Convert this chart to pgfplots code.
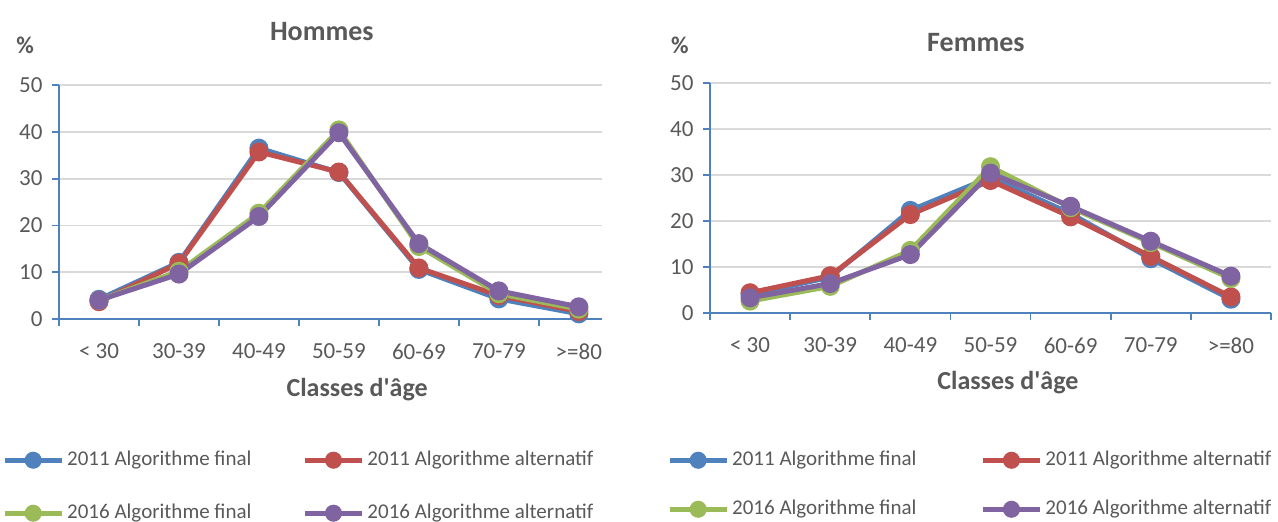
\documentclass[border=0pt]{standalone}
\usepackage{fontspec}
\setmainfont{Carlito}
\usepackage{pgfplots}
\pgfplotsset{compat=1.18}
\definecolor{cblue}{HTML}{4F81BD}
\definecolor{cred}{HTML}{C0504D}
\definecolor{cgreen}{HTML}{9BBB59}
\definecolor{cpurple}{HTML}{8064A2}
\definecolor{txt}{HTML}{595959}
\definecolor{gridc}{HTML}{D9D9D9}
\definecolor{axisblue}{HTML}{4F81BD}
\pgfplotsset{
  mystyle/.style={
    scale only axis,
    clip=false,
    ymin=0, ymax=50, ytick={0,10,...,50},
    xmin=-0.5,
    axis x line=bottom, axis y line=left,
    axis line style={draw=axisblue, line width=1.8pt, -},
    ymajorgrids, major grid style={draw=gridc, line width=1.8pt},
    tick align=outside,
    major tick length=7pt,
    tick style={draw=axisblue, line width=1.8pt},
    xtick={-0.5,0.5,...,6.5},
    xticklabels={},
    extra x ticks={0,1,2,3,4,5,6},
    extra x tick labels={{< 30},30-39,40-49,50-59,60-69,70-79,{>=80}},
    extra x tick style={major tick length=0pt, xticklabel style={yshift=-21pt}},
    tick label style={font=\fontsize{23}{23}\selectfont, text=txt},
    yticklabel style={xshift=-6pt},
    /pgf/number format/assume math mode=true,
    title style={font=\bfseries\fontsize{28}{28}\selectfont, text=txt, anchor=center},
    xlabel style={font=\bfseries\fontsize{26}{26}\selectfont, text=txt, anchor=center},
    ylabel style={font=\bfseries\fontsize{24}{24}\selectfont, text=txt, anchor=center, rotate=-90},
    xlabel={Classes d\textquotesingle âge},
    ylabel={\%},
    every axis plot/.append style={line width=5pt, mark=*, mark size=7pt},
    legend columns=2,
    legend cell align=left,
    legend image code/.code={%
      \draw[#1, mark repeat=2, mark phase=2, mark size=6pt] plot coordinates {(0pt,0pt) (28.5pt,0pt) (57pt,0pt)};},
    legend style={draw=none, fill=none, inner sep=0pt, anchor=north west,
      font=\fontsize{21}{21}\selectfont, text=txt,
      nodes={inner sep=0pt, text height=15pt, text depth=5pt},
      /tikz/every odd column/.append style={column sep=3pt}},
  }
}
\begin{document}
\begin{tikzpicture}
\useasboundingbox (0,0) rectangle (1278pt,522pt);
% Hommes
\begin{axis}[mystyle,
  at={(59pt,203pt)}, anchor=south west,
  width=543pt, height=234pt,
  xmax=6.29,
  title={Hommes},
  title style={at={(axis description cs:0.484,1.204)}},
  xlabel style={at={(axis description cs:0.549,-0.303)}},
  ylabel style={at={(axis description cs:-0.0626,1.171)}},
  legend style={at={(axis description cs:-0.105,-0.56)}, row sep=33pt,
    /tikz/every even column/.append style={column sep=51pt}},
]
\addplot[cblue, mark options={fill=cblue}] coordinates {(0,4.2) (1,12.1) (2,36.5) (3,31.3) (4,10.6) (5,4.3) (6,1.1)};
\addlegendentry{2011 Algorithme final}
\addplot[cred, mark options={fill=cred}] coordinates {(0,3.7) (1,11.9) (2,35.7) (3,31.4) (4,10.9) (5,5.0) (6,1.6)};
\addlegendentry{2011 Algorithme alternatif}
\addplot[cgreen, mark options={fill=cgreen}] coordinates {(0,4.0) (1,10.2) (2,22.6) (3,40.4) (4,15.5) (5,5.4) (6,2.1)};
\addlegendentry{2016 Algorithme final}
\addplot[cpurple, mark options={fill=cpurple}] coordinates {(0,4.0) (1,9.6) (2,21.9) (3,39.8) (4,16.1) (5,6.0) (6,2.6)};
\addlegendentry{2016 Algorithme alternatif}
\end{axis}
% Femmes
\begin{axis}[mystyle,
  at={(710pt,209pt)}, anchor=south west,
  width=561pt, height=230pt,
  xmax=6.5,
  title={Femmes},
  title style={at={(axis description cs:0.474,1.152)}},
  xlabel style={at={(axis description cs:0.531,-0.304)}},
  ylabel style={at={(axis description cs:-0.0535,1.165)}},
  legend style={at={(axis description cs:-0.0767,-0.596)}, row sep=29pt,
    /tikz/every even column/.append style={column sep=64pt}},
]
\addplot[cblue, mark options={fill=cblue}] coordinates {(0,4.0) (1,7.8) (2,22.3) (3,29.5) (4,21.6) (5,11.8) (6,3.0)};
\addlegendentry{2011 Algorithme final}
\addplot[cred, mark options={fill=cred}] coordinates {(0,4.4) (1,8.1) (2,21.4) (3,28.8) (4,20.9) (5,12.3) (6,3.5)};
\addlegendentry{2011 Algorithme alternatif}
\addplot[cgreen, mark options={fill=cgreen}] coordinates {(0,2.6) (1,5.8) (2,13.6) (3,31.8) (4,22.9) (5,15.3) (6,7.5)};
\addlegendentry{2016 Algorithme final}
\addplot[cpurple, mark options={fill=cpurple}] coordinates {(0,3.3) (1,6.4) (2,12.7) (3,30.4) (4,23.2) (5,15.6) (6,8.0)};
\addlegendentry{2016 Algorithme alternatif}
\end{axis}
\end{tikzpicture}
\end{document}
